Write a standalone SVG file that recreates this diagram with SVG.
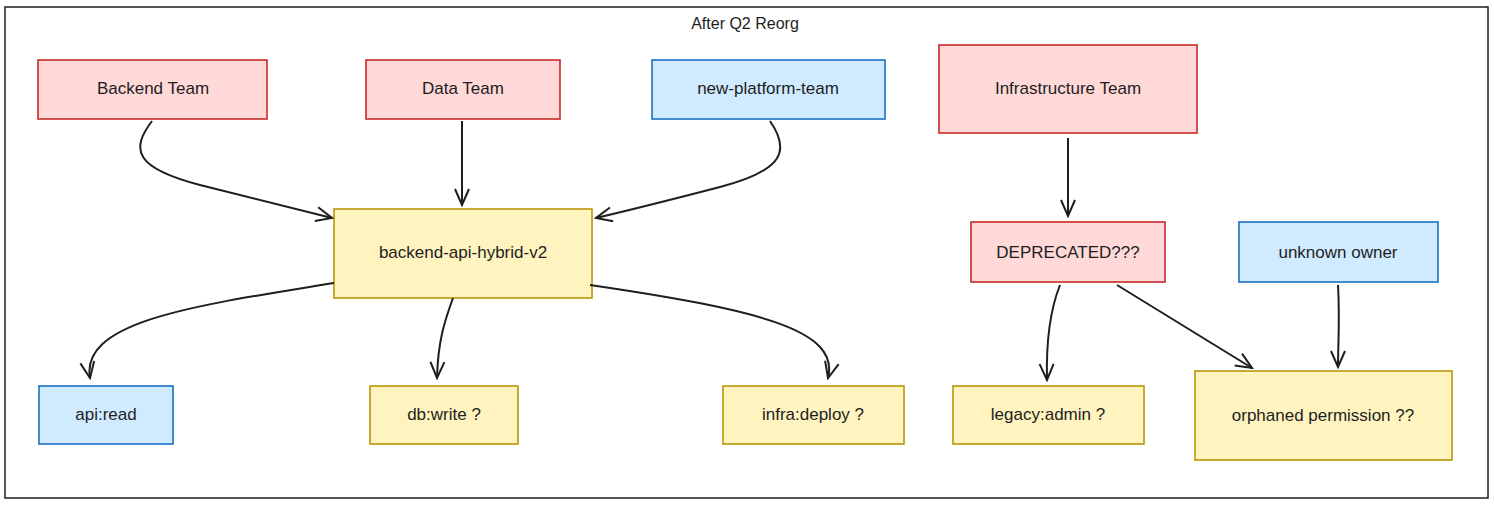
<svg xmlns="http://www.w3.org/2000/svg" width="1494" height="505" viewBox="0 0 1494 505">
<style>
text{font-family:"Liberation Sans",sans-serif;font-size:17px;fill:#1e1e1e;text-anchor:middle;dominant-baseline:central}
.r{fill:#ffd8d8;stroke:#c92a2a;stroke-width:1.6}
.b{fill:#d0ebff;stroke:#1971c2;stroke-width:1.6}
.y{fill:#fff3bf;stroke:#b8960a;stroke-width:1.6}
.c{fill:none;stroke:#1e1e1e;stroke-width:2;marker-end:url(#a)}
</style>
<defs><marker id="a" viewBox="0 0 20 20" refX="18" refY="10" markerWidth="20" markerHeight="20" markerUnits="userSpaceOnUse" orient="auto"><path d="M2,3 L18,10 L2,17" fill="none" stroke="#1e1e1e" stroke-width="2"/></marker></defs>
<rect x="5" y="7" width="1483" height="491" fill="#fff" stroke="#1e1e1e" stroke-width="1.5"/>
<text x="745" y="23" style="font-size:16px">After Q2 Reorg</text>
<g id="backend-team"><rect class="r" x="38" y="60" width="229" height="59"/><text x="153" y="88">Backend Team</text></g>
<g id="data-team"><rect class="r" x="366" y="60" width="194" height="59"/><text x="463" y="88">Data Team</text></g>
<g id="new-platform-team"><rect class="b" x="652" y="60" width="233" height="59"/><text x="768" y="88">new-platform-team</text></g>
<g id="infra-team"><rect class="r" x="939" y="45" width="258" height="88"/><text x="1068" y="88">Infrastructure Team</text></g>
<g id="hybrid"><rect class="y" x="334" y="209" width="258" height="89"/><text x="463" y="252">backend-api-hybrid-v2</text></g>
<g id="deprecated"><rect class="r" x="971" y="222" width="194" height="60"/><text x="1068" y="252">DEPRECATED???</text></g>
<g id="unknown"><rect class="b" x="1239" y="222" width="199" height="60"/><text x="1338" y="252">unknown owner</text></g>
<g id="api-read"><rect class="b" x="39" y="386" width="134" height="58"/><text x="106" y="414">api:read</text></g>
<g id="db-write"><rect class="y" x="370" y="386" width="148" height="58"/><text x="444" y="414">db:write ?</text></g>
<g id="infra-deploy"><rect class="y" x="723" y="386" width="181" height="58"/><text x="813" y="414">infra:deploy ?</text></g>
<g id="legacy-admin"><rect class="y" x="953" y="386" width="191" height="58"/><text x="1048" y="414">legacy:admin ?</text></g>
<g id="orphaned"><rect class="y" x="1195" y="371" width="257" height="89"/><text x="1323" y="415">orphaned permission ??</text></g>
<g id="connectors">
<path class="c" d="M152,121 C130,150 135,168 200,185 C260,200 300,210 332,218"/>
<path class="c" d="M462,121 L462,205"/>
<path class="c" d="M770,121 C790,150 785,170 720,187 C670,200 630,210 596,218"/>
<path class="c" d="M1068,138 L1068,216"/>
<path class="c" d="M334,283 C200,305 80,320 90,378"/>
<path class="c" d="M453,298 C445,320 438,340 437,378"/>
<path class="c" d="M590,285 C760,310 840,330 828,378"/>
<path class="c" d="M1060,285 C1050,310 1046,340 1047,380"/>
<path class="c" d="M1117,285 L1252,368"/>
<path class="c" d="M1338,285 C1340,320 1338,345 1338,367"/>
</g>
</svg>
